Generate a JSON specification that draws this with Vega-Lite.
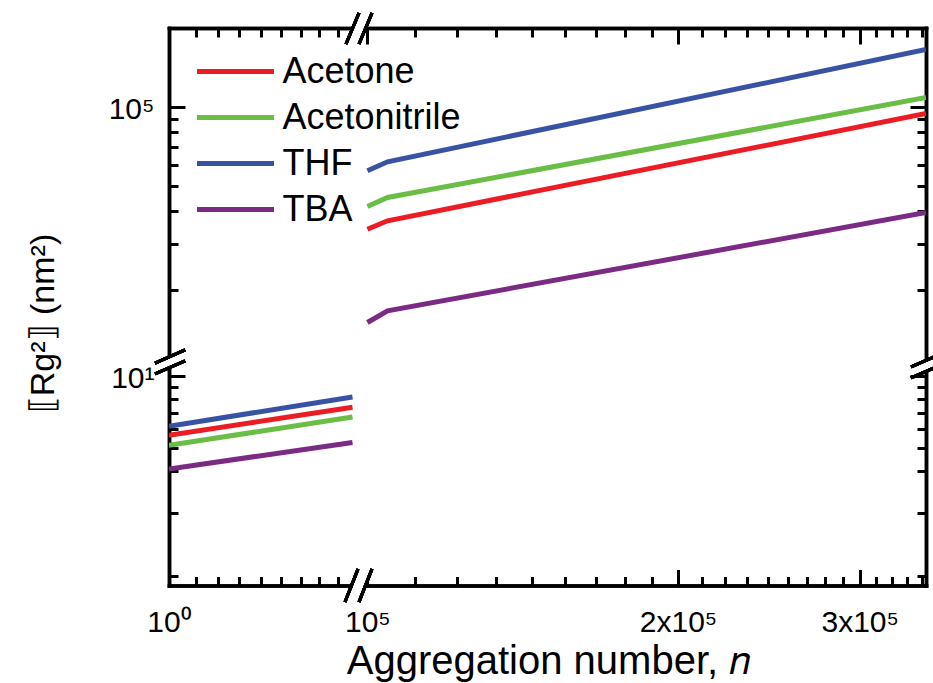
{
  "$schema": "https://vega.github.io/schema/vega-lite/v6.json",
  "background": "white",
  "padding": {"left": 26, "top": 8, "right": 0, "bottom": 0},
  "datasets": {
    "left": [
      {"solvent": "Acetone", "n": 1, "r2": 5.65},
      {"solvent": "Acetone", "n": 100000, "r2": 7.385},
      {"solvent": "Acetonitrile", "n": 1, "r2": 5.129},
      {"solvent": "Acetonitrile", "n": 100000, "r2": 6.73},
      {"solvent": "THF", "n": 1, "r2": 6.155},
      {"solvent": "THF", "n": 100000, "r2": 8.152},
      {"solvent": "TBA", "n": 1, "r2": 4.087},
      {"solvent": "TBA", "n": 100000, "r2": 5.27}
    ],
    "right": [
      {"solvent": "THF", "n": 100000, "r2": 57000},
      {"solvent": "THF", "n": 104600, "r2": 61690},
      {"solvent": "THF", "n": 347790, "r2": 165450},
      {"solvent": "Acetonitrile", "n": 100000, "r2": 41650},
      {"solvent": "Acetonitrile", "n": 104600, "r2": 45060},
      {"solvent": "Acetonitrile", "n": 347790, "r2": 108530},
      {"solvent": "Acetone", "n": 100000, "r2": 34100},
      {"solvent": "Acetone", "n": 104600, "r2": 36720},
      {"solvent": "Acetone", "n": 347790, "r2": 94280},
      {"solvent": "TBA", "n": 100000, "r2": 15020},
      {"solvent": "TBA", "n": 104600, "r2": 16650},
      {"solvent": "TBA", "n": 347790, "r2": 39500}
    ]
  },
  "columns": 2,
  "spacing": 0,
  "bounds": "flush",
  "concat": [
    {
      "width": 190.5, "height": 336.5,
      "data": {"name": "right"},
      "layer": [
        {"mark": {"type": "line", "opacity": 0, "clip": true},
         "encoding": {
           "x": {"field": "n", "type": "quantitative", "scale": {"type": "log", "domain": [1, 155140], "nice": false},
                 "axis": {"orient": "top", "values": [1], "tickSize": -16, "labels": false, "title": null}},
           "y": {"field": "r2", "type": "quantitative", "scale": {"type": "log", "domain": [10385, 199890], "nice": false},
                 "axis": {"orient": "left", "values": [100000], "tickSize": -16, "labelExpr": "'10⁵'", "labelPadding": 31, "labelOffset": 3, "title": null}}
         }},
        {"mark": {"type": "line", "opacity": 0, "clip": true},
         "encoding": {
           "x": {"field": "n", "type": "quantitative",
                 "axis": {"orient": "top", "values": [5.37, 20.97, 81.8, 317, 1112, 3902, 12376, 39020], "tickSize": -9, "labels": false, "title": null}},
           "y": {"field": "r2", "type": "quantitative",
                 "axis": {"orient": "left", "values": [20000, 30000, 40000, 50000, 60000, 70000, 80000, 90000], "tickSize": -9, "labels": false, "title": null}}
         }}
      ],
      "resolve": {"axis": {"x": "independent", "y": "independent"}}
    },
    {
      "width": 566, "height": 336.5,
      "data": {"name": "right"},
      "layer": [
        {"mark": {"type": "line", "clip": true},
         "encoding": {
           "x": {"field": "n", "type": "quantitative", "scale": {"type": "log", "domain": [98362, 347790], "nice": false},
                 "axis": {"orient": "top", "values": [100000, 200000, 300000], "tickSize": -16, "labels": false, "title": null}},
           "y": {"field": "r2", "type": "quantitative", "scale": {"type": "log", "domain": [10385, 199890], "nice": false},
                 "axis": {"orient": "right", "values": [100000], "tickSize": -16, "labels": false, "title": null}},
           "color": {"field": "solvent", "type": "nominal",
                     "scale": {"domain": ["Acetone", "Acetonitrile", "THF", "TBA"], "range": ["#EC1C24", "#6ABD45", "#3953A4", "#7B2B83"]}}
         }},
        {"mark": {"type": "line", "opacity": 0, "clip": true},
         "encoding": {
           "x": {"field": "n", "type": "quantitative",
                 "axis": {"orient": "top", "values": [111111, 122222, 133333, 144444, 155556, 166667, 177778, 188889, 211111, 222222, 233333, 244444, 255556, 266667, 277778, 288889, 311111, 322222, 333333, 344444], "tickSize": -9, "labels": false, "title": null}},
           "y": {"field": "r2", "type": "quantitative",
                 "axis": {"orient": "right", "values": [20000, 30000, 40000, 50000, 60000, 70000, 80000, 90000], "tickSize": -9, "labels": false, "title": null}}
         }}
      ],
      "resolve": {"axis": {"x": "independent", "y": "independent"}}
    },
    {
      "width": 190.5, "height": 220.5,
      "data": {"name": "left"},
      "layer": [
        {"mark": {"type": "line", "clip": true},
         "encoding": {
           "x": {"field": "n", "type": "quantitative", "scale": {"type": "log", "domain": [1, 155140], "nice": false},
                 "axis": {"orient": "bottom", "values": [1], "tickSize": -16, "labelExpr": "'10⁰'", "labelPadding": 38, "title": null}},
           "y": {"field": "r2", "type": "quantitative", "scale": {"type": "log", "domain": [1.336, 11.08], "nice": false},
                 "axis": {"orient": "left", "values": [10], "tickSize": -16, "labelExpr": "'10¹'", "labelPadding": 31, "labelOffset": 3,
                          "title": "⟦Rg²⟧ (nm²)", "titleFontSize": 34, "titleX": -116, "titleY": -42, "titleAngle": 270, "titleBaseline": "alphabetic", "titleAlign": "center"}},
           "color": {"field": "solvent", "type": "nominal",
                     "scale": {"domain": ["Acetone", "Acetonitrile", "THF", "TBA"], "range": ["#EC1C24", "#6ABD45", "#3953A4", "#7B2B83"]}}
         }},
        {"mark": {"type": "line", "opacity": 0, "clip": true},
         "encoding": {
           "x": {"field": "n", "type": "quantitative",
                 "axis": {"orient": "bottom", "values": [5.37, 20.97, 81.8, 317, 1112, 3902, 12376, 39020], "tickSize": -9, "labels": false, "title": null}},
           "y": {"field": "r2", "type": "quantitative",
                 "axis": {"orient": "left", "values": [9, 8, 7, 6, 5, 4, 2.68, 1.47], "tickSize": -9, "labels": false, "title": null}}
         }}
      ],
      "resolve": {"axis": {"x": "independent", "y": "independent"}}
    },
    {
      "width": 566, "height": 220.5,
      "data": {"name": "left"},
      "layer": [
        {"mark": {"type": "line", "opacity": 0, "clip": true},
         "encoding": {
           "x": {"field": "n", "type": "quantitative", "scale": {"type": "log", "domain": [98362, 347790], "nice": false},
                 "axis": {"orient": "bottom", "values": [100000, 200000, 300000], "tickSize": -16, "labelPadding": 38,
                          "labelExpr": "datum.value < 150000 ? '10⁵' : (datum.value < 250000 ? '2x10⁵' : '3x10⁵')",
                          "title": "Aggregation number, 𝑛", "titleFontSize": 40, "titleX": 188, "titleY": 88, "titleBaseline": "alphabetic", "titleAlign": "center"}},
           "y": {"field": "r2", "type": "quantitative", "scale": {"type": "log", "domain": [1.336, 11.08], "nice": false},
                 "axis": {"orient": "right", "values": [10], "tickSize": -16, "labels": false, "title": null}}
         }},
        {"mark": {"type": "line", "opacity": 0, "clip": true},
         "encoding": {
           "x": {"field": "n", "type": "quantitative",
                 "axis": {"orient": "bottom", "values": [111111, 122222, 133333, 144444, 155556, 166667, 177778, 188889, 211111, 222222, 233333, 244444, 255556, 266667, 277778, 288889, 311111, 322222, 333333, 344444], "tickSize": -9, "labels": false, "title": null}},
           "y": {"field": "r2", "type": "quantitative",
                 "axis": {"orient": "right", "values": [9, 8, 7, 6, 5, 4, 2.68, 1.47], "tickSize": -9, "labels": false, "title": null}}
         }},
        {"mark": {"type": "rule", "color": "white", "strokeWidth": 9},
         "encoding": {"x": {"datum": 96731, "type": "quantitative", "axis": null}, "x2": {"datum": 99577},
                      "y": {"datum": 241.1, "type": "quantitative", "axis": null}, "y2": {"datum": 324.5}}},
        {"mark": {"type": "rule", "color": "black", "strokeWidth": 3},
         "encoding": {"x": {"datum": 95337, "type": "quantitative", "axis": null}, "x2": {"datum": 98143},
                      "y": {"datum": 241.1, "type": "quantitative", "axis": null}, "y2": {"datum": 324.5}}},
        {"mark": {"type": "rule", "color": "black", "strokeWidth": 3},
         "encoding": {"x": {"datum": 98143, "type": "quantitative", "axis": null}, "x2": {"datum": 101032},
                      "y": {"datum": 241.1, "type": "quantitative", "axis": null}, "y2": {"datum": 324.5}}},
        {"mark": {"type": "rule", "color": "white", "strokeWidth": 9},
         "encoding": {"x": {"datum": 96623, "type": "quantitative", "axis": null}, "x2": {"datum": 99465},
                      "y": {"datum": 1.1404, "type": "quantitative", "axis": null}, "y2": {"datum": 1.5652}}},
        {"mark": {"type": "rule", "color": "black", "strokeWidth": 3},
         "encoding": {"x": {"datum": 95124, "type": "quantitative", "axis": null}, "x2": {"datum": 97924},
                      "y": {"datum": 1.1404, "type": "quantitative", "axis": null}, "y2": {"datum": 1.5652}}},
        {"mark": {"type": "rule", "color": "black", "strokeWidth": 3},
         "encoding": {"x": {"datum": 98143, "type": "quantitative", "axis": null}, "x2": {"datum": 101032},
                      "y": {"datum": 1.1404, "type": "quantitative", "axis": null}, "y2": {"datum": 1.5652}}},
        {"mark": {"type": "rule", "color": "white", "strokeWidth": 7},
         "encoding": {"x": {"datum": 62262, "type": "quantitative", "axis": null}, "x2": {"datum": 66577},
                      "y": {"datum": 10.715, "type": "quantitative", "axis": null}, "y2": {"datum": 12.14}}},
        {"mark": {"type": "rule", "color": "black", "strokeWidth": 3},
         "encoding": {"x": {"datum": 62262, "type": "quantitative", "axis": null}, "x2": {"datum": 66577},
                      "y": {"datum": 11.293, "type": "quantitative", "axis": null}, "y2": {"datum": 12.797}}},
        {"mark": {"type": "rule", "color": "black", "strokeWidth": 3},
         "encoding": {"x": {"datum": 62262, "type": "quantitative", "axis": null}, "x2": {"datum": 66577},
                      "y": {"datum": 10.164, "type": "quantitative", "axis": null}, "y2": {"datum": 11.515}}},
        {"mark": {"type": "rule", "color": "white", "strokeWidth": 7},
         "encoding": {"x": {"datum": 336390, "type": "quantitative", "axis": null}, "x2": {"datum": 359680},
                      "y": {"datum": 10.312, "type": "quantitative", "axis": null}, "y2": {"datum": 11.682}}},
        {"mark": {"type": "rule", "color": "black", "strokeWidth": 3},
         "encoding": {"x": {"datum": 336390, "type": "quantitative", "axis": null}, "x2": {"datum": 359680},
                      "y": {"datum": 10.87, "type": "quantitative", "axis": null}, "y2": {"datum": 12.316}}},
        {"mark": {"type": "rule", "color": "black", "strokeWidth": 3},
         "encoding": {"x": {"datum": 336390, "type": "quantitative", "axis": null}, "x2": {"datum": 359680},
                      "y": {"datum": 9.7818, "type": "quantitative", "axis": null}, "y2": {"datum": 11.081}}}
      ],
      "resolve": {"axis": {"x": "independent", "y": "independent"}}
    }
  ],
  "config": {
    "view": {"stroke": null},
    "line": {"strokeWidth": 5, "strokeCap": "butt"},
    "axis": {
      "domainColor": "black", "domainWidth": 3.5, "domainCap": "square",
      "tickColor": "black", "tickWidth": 3, "grid": false,
      "labelFont": "Liberation Sans", "labelFontSize": 30, "labelColor": "black",
      "labelFlush": false, "labelOverlap": false, "labelBound": false,
      "titleFont": "Liberation Sans", "titleColor": "black", "titleFontWeight": "normal"
    },
    "legend": {
      "orient": "none", "legendX": 25.5, "legendY": 23.5, "title": null,
      "symbolType": "stroke", "symbolStrokeWidth": 5, "symbolSize": 5929,
      "labelFont": "Liberation Sans", "labelFontSize": 36, "labelColor": "black", "labelLimit": 0,
      "labelOffset": 6, "rowPadding": 6, "clipHeight": 40
    }
  }
}
